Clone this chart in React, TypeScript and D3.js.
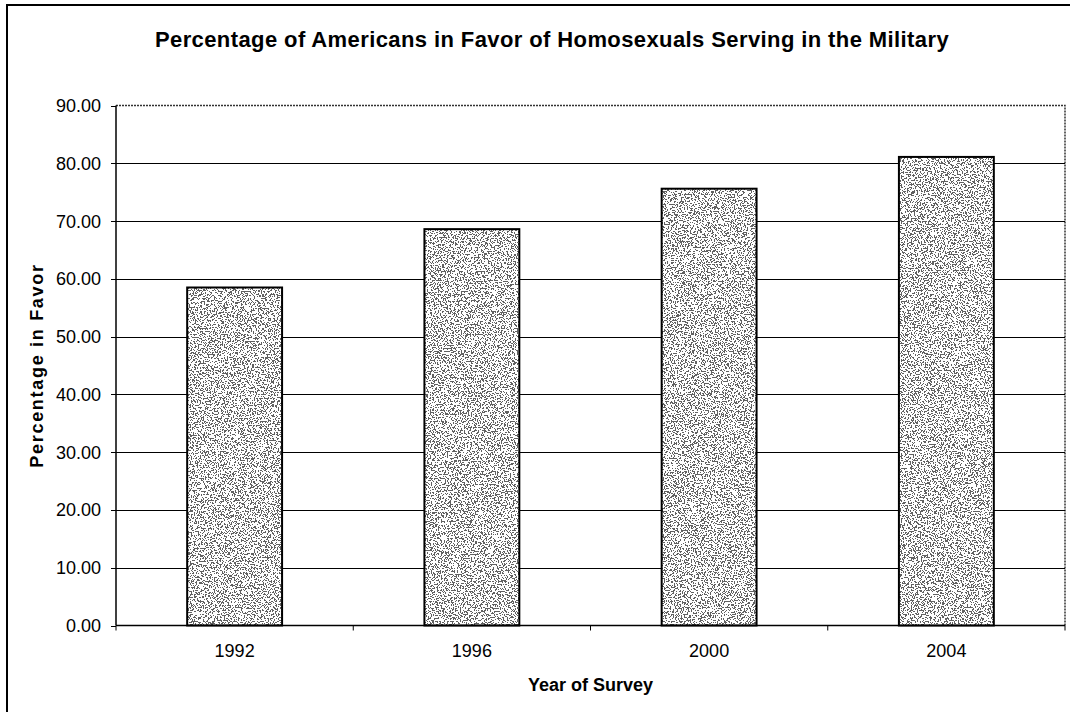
import React from "react";
import * as d3 from "d3";

// Survey results: share of respondents in favor, by survey year
const years = ["1992", "1996", "2000", "2004"];
const percentInFavor = [58.5, 68.6, 75.6, 81.1];
const yTicks = [0, 10, 20, 30, 40, 50, 60, 70, 80, 90];

const W = 1070;
const H = 712;
const plot = { left: 116, right: 1065, top: 105.5, bottom: 625.5 };
const FONT = "'Liberation Sans', Arial, sans-serif";

export default function App() {
  const x = d3
    .scaleBand<string>()
    .domain(years)
    .range([plot.left, plot.right])
    .paddingInner(0.6)
    .paddingOuter(0.3);

  const y = d3.scaleLinear().domain([0, 90]).range([plot.bottom, plot.top]);

  const step = x.step();
  const boundaries = d3.range(years.length + 1).map((i) => plot.left + i * step);
  const cx = (plot.left + plot.right) / 2;
  const cy = (plot.top + plot.bottom) / 2;

  return (
    <div style={{ position: "absolute", left: 0, top: 0 }}>
      <style>{"body{margin:0}"}</style>
      <svg width={W} height={H} style={{ display: "block", background: "#fff" }}>
        <defs>
          {/* grainy stipple used to fill the bars */}
          <filter id="grain" x="0" y="0" width="100%" height="100%" colorInterpolationFilters="sRGB">
            <feTurbulence type="fractalNoise" baseFrequency="0.7" numOctaves={2} seed={7} result="noise" />
            <feColorMatrix
              in="noise"
              type="matrix"
              values="0 0 0 0 0.38  0 0 0 0 0.38  0 0 0 0 0.38  1 0 0 0 0"
              result="alphaNoise"
            />
            <feComponentTransfer in="alphaNoise" result="dots">
              <feFuncA type="discrete" tableValues="0 0 0 0 0 0 0 0 0 0 0 1 1 1 1 1 1 1 1 1" />
            </feComponentTransfer>
            <feComposite in="dots" in2="SourceGraphic" operator="in" />
          </filter>
        </defs>

        {/* chart frame */}
        <rect x={7} y={5} width={W} height={H} fill="none" stroke="#000" strokeWidth={2} />

        {/* title */}
        <text
          x={552}
          y={47}
          textAnchor="middle"
          fontFamily={FONT}
          fontWeight="bold"
          fontSize={22}
          letterSpacing={0.4}
          fill="#000"
        >
          Percentage of Americans in Favor of Homosexuals Serving in the Military
        </text>

        {/* plot area border (top & right) */}
        <path
          d={`M${plot.left},${plot.top}H${plot.right}V${plot.bottom}`}
          fill="none"
          stroke="#333"
          strokeWidth={1.5}
          strokeDasharray="2,1"
        />

        {/* gridlines and y ticks */}
        {yTicks.map((t) => (
          <g key={t}>
            {t > 0 && t < 90 && (
              <line
                x1={plot.left}
                x2={plot.right}
                y1={Math.round(y(t)) + 0.5}
                y2={Math.round(y(t)) + 0.5}
                stroke="#000"
                strokeWidth={1.2}
              />
            )}
            <line
              x1={plot.left - 5}
              x2={plot.left}
              y1={Math.round(y(t)) + 0.5}
              y2={Math.round(y(t)) + 0.5}
              stroke="#000"
              strokeWidth={1}
            />
            <text
              x={101}
              y={y(t) + 6.5}
              textAnchor="end"
              fontFamily={FONT}
              fontSize={18}
              fill="#000"
            >
              {t.toFixed(2)}
            </text>
          </g>
        ))}

        {/* bars: white base, stipple, outline */}
        {years.map((yr, i) => {
          const bx = x(yr) as number;
          const by = y(percentInFavor[i]);
          const bw = x.bandwidth();
          const bh = y(0) - by;
          return (
            <g key={yr}>
              <rect x={bx} y={by} width={bw} height={bh} fill="#fff" />
              <rect x={bx} y={by} width={bw} height={bh} fill="#000" filter="url(#grain)" />
              <rect x={bx} y={by} width={bw} height={bh} fill="none" stroke="#000" strokeWidth={2} />
            </g>
          );
        })}

        {/* axes */}
        <line x1={plot.left} x2={plot.left} y1={plot.top} y2={plot.bottom} stroke="#000" strokeWidth={1.5} />
        <line x1={plot.left} x2={plot.right} y1={plot.bottom} y2={plot.bottom} stroke="#000" strokeWidth={1.5} />
        {boundaries.map((bx, i) => (
          <line key={i} x1={bx} x2={bx} y1={plot.bottom} y2={plot.bottom + 5} stroke="#000" strokeWidth={1} />
        ))}

        {/* category labels */}
        {years.map((yr) => (
          <text
            key={yr}
            x={(x(yr) as number) + x.bandwidth() / 2}
            y={657}
            textAnchor="middle"
            fontFamily={FONT}
            fontSize={18}
            fill="#000"
          >
            {yr}
          </text>
        ))}

        {/* axis titles */}
        <text
          x={cx}
          y={691}
          textAnchor="middle"
          fontFamily={FONT}
          fontWeight="bold"
          fontSize={18}
          fill="#000"
        >
          Year of Survey
        </text>
        <text
          transform={`translate(43,${cy}) rotate(-90)`}
          textAnchor="middle"
          fontFamily={FONT}
          fontWeight="bold"
          fontSize={18}
          letterSpacing={1.7}
          fill="#000"
        >
          Percentage in Favor
        </text>
      </svg>
    </div>
  );
}
